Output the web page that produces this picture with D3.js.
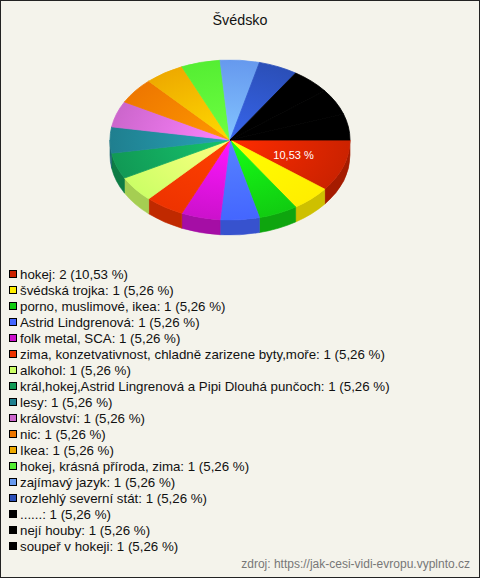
<!DOCTYPE html>
<html><head><meta charset="utf-8">
<script src="https://cdn.jsdelivr.net/npm/d3@7"></script>
<style>html,body{margin:0;padding:0;background:#f4f3eb;}svg{display:block;}</style>
</head><body>
<script>
const title = "Švédsko";
const categories = ["hokej","švédská trojka","porno, muslimové, ikea","Astrid Lindgrenová","folk metal, SCA","zima, konzetvativnost, chladně zarizene byty,moře","alkohol","král,hokej,Astrid Lingrenová a Pipi Dlouhá punčoch","lesy","království","nic","Ikea","hokej, krásná příroda, zima","zajímavý jazyk","rozlehlý severní stát","......","nejí houby","soupeř v hokeji"];
const values = [2,1,1,1,1,1,1,1,1,1,1,1,1,1,1,1,1,1];
const colors = ["#cc2200","#ffee00","#11cc11","#4466ff","#cc11cc","#ee3300","#ccff66","#119955","#1f7f8f","#cc66cc","#ee7700","#eeaa00","#55ee33","#6699ee","#2b4fb8","#000000","#000000","#000000"];
const source = "zdroj: https://jak-cesi-vidi-evropu.vyplnto.cz";

const W = 480, H = 578;
const svg = d3.select("body").append("svg").attr("width", W).attr("height", H);
svg.append("rect").attr("x",0.5).attr("y",0.5).attr("width",W-1).attr("height",H-1)
  .attr("fill","#f4f3eb").attr("stroke","#222");

svg.append("text").attr("x",240).attr("y",25).attr("text-anchor","middle")
  .attr("font-family","Liberation Sans, Arial, sans-serif").attr("font-size",14.3).attr("fill","#111").text(title);

const total = d3.sum(values);
const fmt = v => d3.format(".2f")(v).replace(".", ",");
const cx = 230, cy = 140, rx = 120, ry = 80, depth = 15;
const pie = d3.pie().sort(null).value(d => d.v).startAngle(0).endAngle(2*Math.PI);
const data = categories.map((c,i)=>({c, v: values[i], col: colors[i]}));
const arcs = pie(data);
const X = t => cx + rx*Math.cos(t), Y = (t, dy=0) => cy + dy + ry*Math.sin(t);

const defs = svg.append("defs");
arcs.forEach((a,i)=>{
  const g = defs.append("radialGradient").attr("id","g"+i).attr("gradientUnits","userSpaceOnUse")
    .attr("cx",cx).attr("cy",cy).attr("r",rx).attr("fx",cx).attr("fy",cy)
    .attr("gradientTransform",`translate(${cx},${cy}) scale(1,${ry/rx}) translate(${-cx},${-cy})`);
  const base = d3.color(a.data.col);
  g.append("stop").attr("offset","0%").attr("stop-color", d3.color(a.data.col).brighter(0.7).formatHex());
  g.append("stop").attr("offset","100%").attr("stop-color", base.formatHex());
});

// side walls (front half only)
const sides = svg.append("g");
arcs.forEach((a,i)=>{
  const t0 = Math.max(a.startAngle, 0), t1 = Math.min(a.endAngle, Math.PI);
  if (t1 <= t0) return;
  const large = (t1 - t0) > Math.PI ? 1 : 0;
  const p = `M${X(t0)},${Y(t0)} A${rx},${ry} 0 ${large} 1 ${X(t1)},${Y(t1)} L${X(t1)},${Y(t1,depth)} A${rx},${ry} 0 ${large} 0 ${X(t0)},${Y(t0,depth)} Z`;
  const c = d3.color(a.data.col).darker(0.6).formatHex();
  sides.append("path").attr("d",p).attr("fill", c).attr("stroke", c).attr("stroke-width",0.6);
});

// top faces
const tops = svg.append("g");
arcs.forEach((a,i)=>{
  const t0 = a.startAngle, t1 = a.endAngle;
  const large = (t1 - t0) > Math.PI ? 1 : 0;
  const p = `M${cx},${cy} L${X(t0)},${Y(t0)} A${rx},${ry} 0 ${large} 1 ${X(t1)},${Y(t1)} Z`;
  const solid = a.data.col === "#000000";
  tops.append("path").attr("d",p).attr("fill",solid ? "#000" : `url(#g${i})`)
    .attr("stroke",solid ? "#000" : `url(#g${i})`).attr("stroke-width",0.8).attr("stroke-linejoin","round");
});

// labels for big slices
arcs.forEach(a=>{
  const pct = a.data.v/total*100;
  if (pct < 10) return;
  const m = (a.startAngle + a.endAngle)/2, f = 0.56;
  svg.append("text").attr("x", cx + rx*f*Math.cos(m)).attr("y", cy + ry*f*Math.sin(m) + 4)
    .attr("text-anchor","middle").attr("font-family","Liberation Sans, Arial, sans-serif")
    .attr("font-size",11).attr("fill","#fff").text(fmt(pct) + " %");
});

// legend
const lg = svg.append("g");
data.forEach((d,i)=>{
  const y = 274.5 + i*16;
  lg.append("rect").attr("x",9.5).attr("y",y-4).attr("width",7).attr("height",7)
    .attr("fill",d.col).attr("stroke","#000");
  lg.append("text").attr("x",20).attr("y",y+4.5).attr("font-family","Liberation Sans, Arial, sans-serif")
    .attr("font-size",13.3).attr("fill","#111").text(`${d.c}: ${d.v} (${fmt(d.v/total*100)} %)`);
});

svg.append("text").attr("x",470).attr("y",568).attr("text-anchor","end")
  .attr("font-family","Liberation Sans, Arial, sans-serif").attr("font-size",12).attr("fill","#777").text(source);
</script>
</body></html>
